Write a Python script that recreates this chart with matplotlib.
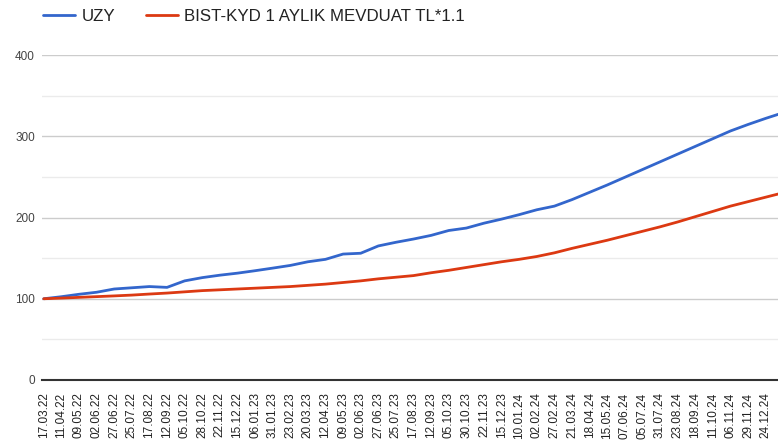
import matplotlib
matplotlib.use("Agg")
import matplotlib.pyplot as plt
from matplotlib.ticker import MultipleLocator

# tick labels (one every ~17 trading days)
date_labels = ["17.03.22", "11.04.22", "09.05.22", "02.06.22", "27.06.22", "25.07.22",
               "17.08.22", "12.09.22", "05.10.22", "28.10.22", "22.11.22", "15.12.22",
               "06.01.23", "31.01.23", "23.02.23", "20.03.23", "12.04.23", "09.05.23",
               "02.06.23", "27.06.23", "25.07.23", "17.08.23", "12.09.23", "05.10.23",
               "30.10.23", "22.11.23", "15.12.23", "10.01.24", "02.02.24", "27.02.24",
               "21.03.24", "18.04.24", "15.05.24", "07.06.24", "05.07.24", "31.07.24",
               "23.08.24", "18.09.24", "11.10.24", "06.11.24", "29.11.24", "24.12.24"]

# values read at each label, plus one last point past the right edge
uzy = [100, 102.5, 105.5, 108, 112, 113.5, 115, 114, 122, 126, 129, 131.5,
       134.5, 137.7, 141, 145.5, 148.5, 155, 156, 165, 169.5, 173.5, 178, 184,
       187, 193, 198, 203.5, 209.5, 214, 222, 231, 240, 249.5, 259, 268.5,
       278, 287.5, 297, 306.5, 314.5, 322, 329]
bist = [100, 100.8, 101.7, 102.6, 103.5, 104.5, 105.8, 107, 108.5, 110, 111, 112,
        113, 114, 115, 116.5, 118, 120, 122, 124.5, 126.5, 128.5, 132, 135,
        138.5, 142, 145.5, 148.5, 152, 156.5, 162, 167, 172, 177.5, 183, 188.5,
        194.5, 201, 207.5, 214, 219.5, 225, 230.5]

plt.rcParams["font.family"] = ["Liberation Sans", "DejaVu Sans"]

fig = plt.figure(figsize=(7.78, 4.45), dpi=100)
ax = fig.add_axes([42 / 778, 1 - 380 / 445, 1 - 42 / 778, 325 / 445])

x = list(range(len(uzy)))
ax.plot(x, uzy, color="#3366cc", lw=2.0, label="UZY", solid_capstyle="round")
ax.plot(x, bist, color="#dc3912", lw=2.0, label="BIST-KYD 1 AYLIK MEVDUAT TL*1.1",
        solid_capstyle="round")

ax.set_ylim(0, 400)
ax.set_xlim(-0.1, 41.7)
ax.yaxis.set_major_locator(MultipleLocator(100))
ax.yaxis.set_minor_locator(MultipleLocator(50))
ax.grid(which="major", axis="y", color="#cccccc", lw=1)
ax.grid(which="minor", axis="y", color="#ebebeb", lw=1)
ax.set_axisbelow(True)

ax.set_xticks(range(len(date_labels)))
ax.set_xticklabels(date_labels, rotation=90, fontsize=8.5, color="#222222")
ax.tick_params(axis="x", length=0, pad=9)
ax.tick_params(axis="y", which="both", length=0, pad=5, labelsize=8.5, labelcolor="#444444")

for side in ["top", "right", "left"]:
    ax.spines[side].set_visible(False)
ax.spines["bottom"].set_color("#333333")
ax.spines["bottom"].set_linewidth(1.5)

fig.legend(loc="upper left", bbox_to_anchor=(28 / 778, 1 + 6 / 445), ncol=2, frameon=False,
           fontsize=12.2, handlelength=1.9, handletextpad=0.35, columnspacing=1.8,
           labelcolor="#222222")

fig.savefig("out.png", dpi=100, facecolor="white")
